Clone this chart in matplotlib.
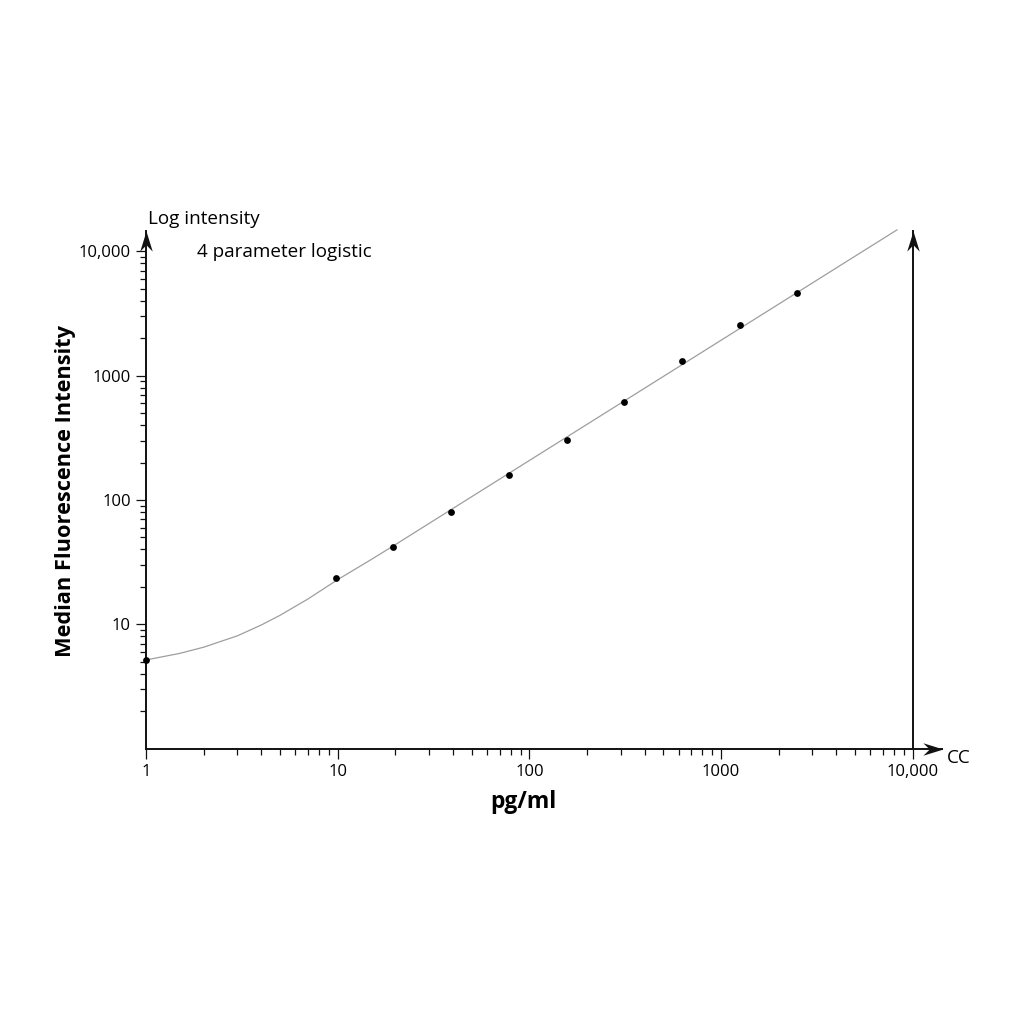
import matplotlib.pyplot as plt
from matplotlib.path import Path
from matplotlib.ticker import FixedLocator, FixedFormatter, LogLocator, NullFormatter

plt.rcParams['font.family'] = ['Open Sans', 'DejaVu Sans']

# standards (pg/ml) and their median fluorescence intensity
conc = [1, 9.77, 19.53, 39.06, 78.13, 156.25, 312.5, 625, 1250, 2500]
mfi = [5.17, 23.6, 42, 80, 159, 304, 619, 1315, 2547, 4637]

# fitted 4PL curve
fit_x = [1, 1.5, 2, 3, 4, 5, 7, 10, 15, 20, 100, 1000, 8280]
fit_y = [5.17, 5.84, 6.55, 8.09, 9.89, 11.82, 16.0, 22.9, 33.3, 43.8, 208, 1928, 14900]

x_ticks = [1, 10, 100, 1000, 10000]
x_labels = ["1", "10", "100", "1000", "10,000"]
y_ticks = [10, 100, 1000, 10000]
y_labels = ["10", "100", "1000", "10,000"]

XLIM = (1, 10000)
YLIM = (1, 14620)
LW_AXIS = 1.4
INK = "#111111"

UP_HEAD = Path([(0, 0), (0.31, -1), (0, -0.68), (-0.31, -1), (0, 0)],
               [Path.MOVETO, Path.LINETO, Path.LINETO, Path.LINETO, Path.CLOSEPOLY])
RIGHT_HEAD = Path([(0, 0), (-1, 0.31), (-0.68, 0), (-1, -0.31), (0, 0)],
                  [Path.MOVETO, Path.LINETO, Path.LINETO, Path.LINETO, Path.CLOSEPOLY])

fig = plt.figure(figsize=(10.24, 10.24), dpi=100)
ax = fig.add_axes([0.1426, 0.2689, 0.7487, 0.5056])
ax.set_xscale("log")
ax.set_yscale("log")
ax.set_xlim(*XLIM)
ax.set_ylim(*YLIM)

ax.plot(fit_x, fit_y, color="#9e9e9e", linewidth=0.9, clip_on=False, zorder=2)
ax.plot(conc, mfi, "o", color="black", markersize=4.9, markeredgewidth=0,
        clip_on=False, zorder=3)

for side in ("left", "bottom", "right"):
    ax.spines[side].set_linewidth(LW_AXIS)
    ax.spines[side].set_color(INK)
ax.spines["top"].set_visible(False)

# arrow heads on the two verticals and the extended x axis
ax.plot([1, 1.0395], [0, 0], color=INK, linewidth=LW_AXIS,
        transform=ax.transAxes, clip_on=False, solid_capstyle="butt")
for xa in (0, 1):
    ax.plot(xa, 1, marker=UP_HEAD, markersize=29, color=INK,
            markeredgewidth=0, transform=ax.transAxes, clip_on=False)
ax.plot(1.0395, 0, marker=RIGHT_HEAD, markersize=29, color=INK,
        markeredgewidth=0, transform=ax.transAxes, clip_on=False)

ax.xaxis.set_major_locator(FixedLocator(x_ticks))
ax.xaxis.set_major_formatter(FixedFormatter(x_labels))
ax.xaxis.set_minor_locator(LogLocator(base=10, subs=range(2, 10)))
ax.xaxis.set_minor_formatter(NullFormatter())
ax.yaxis.set_major_locator(FixedLocator(y_ticks))
ax.yaxis.set_major_formatter(FixedFormatter(y_labels))
ax.yaxis.set_minor_locator(LogLocator(base=10, subs=range(2, 10)))
ax.yaxis.set_minor_formatter(NullFormatter())

ax.tick_params(which="major", length=7, width=0.9, color=INK,
               labelsize=12, pad=4)
ax.tick_params(which="minor", length=4.2, width=0.9, color=INK)
ax.tick_params(axis="y", which="both", right=False)

ax.set_xlabel("pg/ml", fontsize=16.5, fontweight="bold")
ax.xaxis.label.set_va("center")
ax.xaxis.set_label_coords(0.4917, -0.103)
ax.set_ylabel("Median Fluorescence Intensity", fontsize=15.7, fontweight="bold")
ax.yaxis.label.set_va("center")
ax.yaxis.set_label_coords(-0.1056, 0.498)

ax.text(0.003, 1.0135, "Log intensity", transform=ax.transAxes,
        fontsize=13.6, ha="left", va="baseline")
ax.text(0.066, 0.949, "4 parameter logistic", transform=ax.transAxes,
        fontsize=13.6, ha="left", va="baseline")
ax.text(1.0444, -0.0282, "CC", transform=ax.transAxes, fontsize=13.6,
        ha="left", va="baseline")

fig.savefig("out.png", dpi=100, facecolor="white")
